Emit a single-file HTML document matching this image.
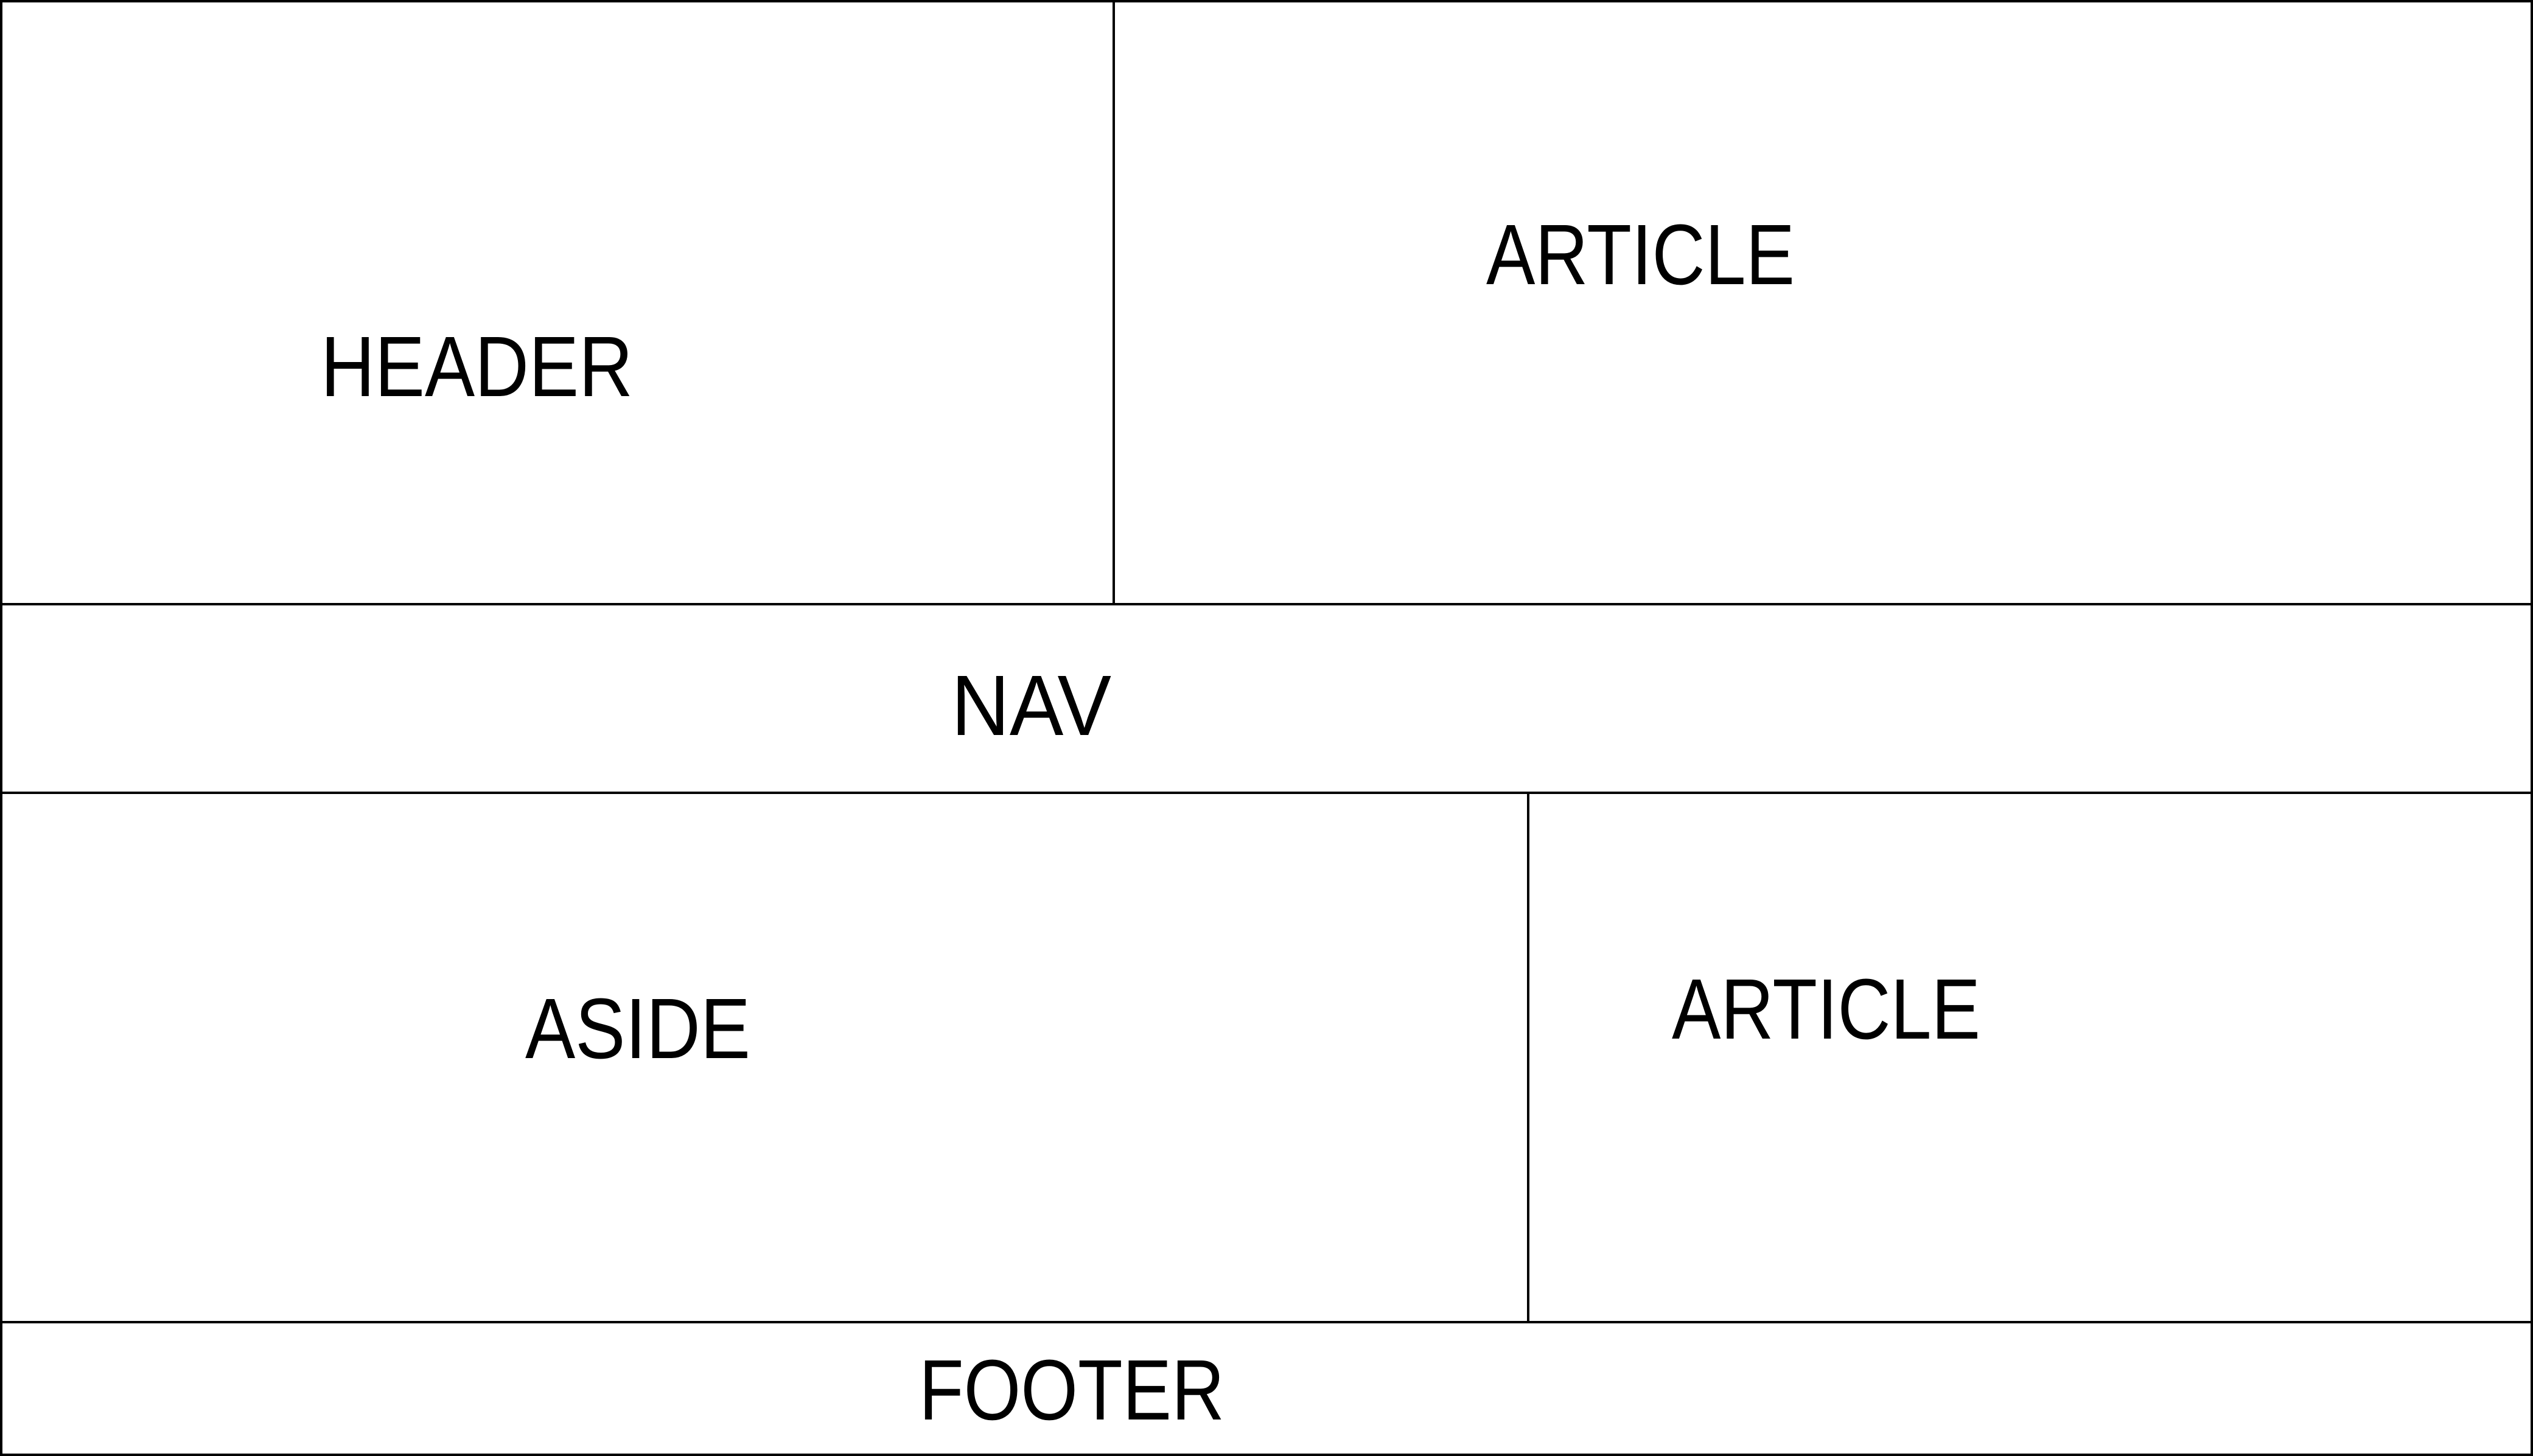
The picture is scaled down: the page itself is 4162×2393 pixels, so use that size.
<!DOCTYPE html>
<html><head><style>html,body{margin:0;padding:0;background:#fff}svg{display:block}</style></head>
<body>
<svg width="4162" height="2393" viewBox="0 0 4162 2393" xmlns="http://www.w3.org/2000/svg">
<rect x="0" y="0" width="4162" height="2393" fill="#fff"/>
<g stroke="#000" stroke-width="4" fill="none">
<rect x="2" y="2" width="4158" height="2389"/>
<line x1="1830" y1="0" x2="1830" y2="993"/>
<line x1="0" y1="993" x2="4162" y2="993"/>
<line x1="0" y1="1303" x2="4162" y2="1303"/>
<line x1="2511" y1="1303" x2="2511" y2="2173"/>
<line x1="0" y1="2173" x2="4162" y2="2173"/>
</g>
<g font-family="Liberation Sans, sans-serif" font-size="141" fill="#000">
<text x="527" y="651" textLength="513" lengthAdjust="spacingAndGlyphs">HEADER</text>
<text x="2442" y="467" textLength="507" lengthAdjust="spacingAndGlyphs">ARTICLE</text>
<text x="1563" y="1208" textLength="263" lengthAdjust="spacingAndGlyphs">NAV</text>
<text x="863" y="1739" textLength="370" lengthAdjust="spacingAndGlyphs">ASIDE</text>
<text x="2747" y="1707" textLength="507" lengthAdjust="spacingAndGlyphs">ARTICLE</text>
<text x="1510" y="2333" textLength="502" lengthAdjust="spacingAndGlyphs">FOOTER</text>
</g>
</svg>
</body></html>
